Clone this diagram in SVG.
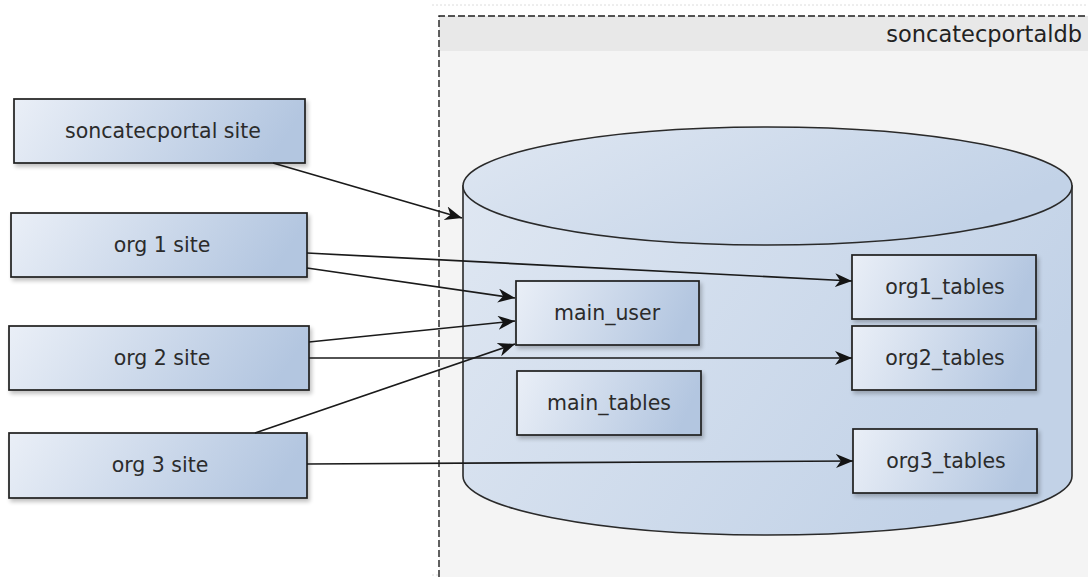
<svg xmlns="http://www.w3.org/2000/svg" width="1088" height="577" viewBox="0 0 1088 577">
  <defs>
    <linearGradient id="boxGrad" x1="0" y1="0" x2="1" y2="0.15">
      <stop offset="0" stop-color="#eaeff7"/>
      <stop offset="1" stop-color="#b3c6e0"/>
    </linearGradient>
    <linearGradient id="cylGrad" x1="0" y1="0" x2="1" y2="0.4">
      <stop offset="0" stop-color="#dfe7f2"/>
      <stop offset="1" stop-color="#c2d2e7"/>
    </linearGradient>
    <filter id="shadow" x="-10%" y="-10%" width="130%" height="140%">
      <feGaussianBlur in="SourceAlpha" stdDeviation="2"/>
      <feOffset dx="2" dy="3" result="b"/>
      <feComponentTransfer><feFuncA type="linear" slope="0.25"/></feComponentTransfer>
      <feMerge><feMergeNode/><feMergeNode in="SourceGraphic"/></feMerge>
    </filter>
    <marker id="arrow" markerUnits="userSpaceOnUse" markerWidth="20" markerHeight="16" refX="17" refY="7" orient="auto">
      <path d="M0,0 L17,7 L0,14 L5,7 Z" fill="#141414"/>
    </marker>
  </defs>
  <style>
    .box { fill: url(#boxGrad); stroke: #1e1e1e; stroke-width: 1.7; filter: url(#shadow); }
    .lbl { font-family: "DejaVu Sans", "Liberation Sans", sans-serif; font-size: 20.5px; fill: #2b2b2b; text-anchor: middle; }
    .conn { stroke: #1a1a1a; stroke-width: 1.7; fill: none; marker-end: url(#arrow); }
  </style>

  <rect x="0" y="0" width="1088" height="577" fill="#ffffff"/>

  <g id="soncatecportaldb">
    <line x1="432" y1="5" x2="1088" y2="5" stroke="#dcdcdc" stroke-width="1" stroke-dasharray="2,2"/>
    <line x1="432" y1="575" x2="1088" y2="575" stroke="#dcdcdc" stroke-width="1" stroke-dasharray="2,2"/>
    <rect x="439" y="16" width="660" height="570" fill="#f4f4f4"/>
    <rect x="439" y="16" width="660" height="35" fill="#e8e8e8"/>
    <path d="M439,577 L439,16 L1088,16" fill="none" stroke="#1e1e1e" stroke-width="1.4" stroke-dasharray="7,3"/>
    <text x="1082" y="42" font-family="'DejaVu Sans', 'Liberation Sans', sans-serif" font-size="22.5" fill="#222" text-anchor="end">soncatecportaldb</text>
  </g>

  <g id="database">
    <path d="M463,186 L463,476 A304.5,59 0 0 0 1072,476 L1072,186 Z" fill="url(#cylGrad)" stroke="#2a2a2a" stroke-width="1.6"/>
    <ellipse cx="767.5" cy="186" rx="304.5" ry="59" fill="url(#cylGrad)" stroke="#2a2a2a" stroke-width="1.6"/>
  </g>

  <g id="soncatecportal-site">
    <rect class="box" x="14" y="99" width="291" height="64"/>
    <text class="lbl" x="163" y="138">soncatecportal site</text>
  </g>
  <g id="org1-site">
    <rect class="box" x="11" y="213" width="296" height="64"/>
    <text class="lbl" x="162" y="252">org 1 site</text>
  </g>
  <g id="org2-site">
    <rect class="box" x="9" y="326" width="300" height="64"/>
    <text class="lbl" x="162" y="365">org 2 site</text>
  </g>
  <g id="org3-site">
    <rect class="box" x="9" y="433" width="298" height="65"/>
    <text class="lbl" x="160" y="472">org 3 site</text>
  </g>

  <g id="main_user">
    <rect class="box" x="516" y="281" width="183" height="64"/>
    <text class="lbl" x="607" y="320">main_user</text>
  </g>
  <g id="main_tables">
    <rect class="box" x="517" y="371" width="184" height="64"/>
    <text class="lbl" x="609" y="410">main_tables</text>
  </g>
  <g id="org1_tables">
    <rect class="box" x="852" y="255" width="184" height="64"/>
    <text class="lbl" x="945" y="294">org1_tables</text>
  </g>
  <g id="org2_tables">
    <rect class="box" x="852" y="326" width="184" height="64"/>
    <text class="lbl" x="945" y="365">org2_tables</text>
  </g>
  <g id="org3_tables">
    <rect class="box" x="853" y="429" width="184" height="64"/>
    <text class="lbl" x="946" y="468">org3_tables</text>
  </g>

  <g id="connectors">
    <line class="conn" x1="273" y1="163" x2="462" y2="218"/>
    <line class="conn" x1="307" y1="253" x2="852" y2="281"/>
    <line class="conn" x1="307" y1="268" x2="515" y2="298"/>
    <line class="conn" x1="309" y1="342" x2="515" y2="321"/>
    <line class="conn" x1="309" y1="358" x2="852" y2="358"/>
    <line class="conn" x1="255" y1="433" x2="515" y2="344"/>
    <line class="conn" x1="307" y1="464" x2="853" y2="461"/>
  </g>
</svg>
